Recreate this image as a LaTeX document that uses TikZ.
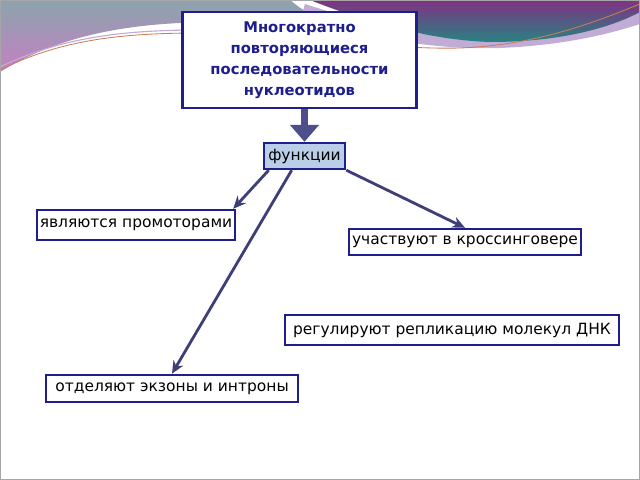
\documentclass[tikz,border=0pt]{standalone}
\usepackage{fontspec}
\setmainfont{DejaVu Sans}
\usetikzlibrary{arrows.meta}

\definecolor{boxblue}{RGB}{30,30,140}
\definecolor{arrowblue}{RGB}{62,62,120}
\definecolor{thickblue}{RGB}{78,78,140}
\definecolor{fnfill}{RGB}{186,206,232}
\definecolor{waveteal}{RGB}{40,130,130}
\definecolor{wavepurple}{RGB}{128,50,130}
\definecolor{wavegray}{RGB}{140,164,172}
\definecolor{wavepink}{RGB}{196,128,196}
\definecolor{wavelav}{RGB}{192,172,212}
\definecolor{waveline}{RGB}{205,125,85}

\tikzset{
  box/.style={draw=boxblue, line width=1.7pt, rectangle, inner sep=1pt,
    font=\fontsize{11}{13}\selectfont},
  link/.style={draw=arrowblue, line width=2pt, -{Stealth[length=9pt,width=8pt]}}
}

\begin{document}
\begin{tikzpicture}[x=0.025cm, y=-0.025cm]
  \useasboundingbox (0,0) rectangle (640,480);
  % Slide header wave
  \shade[top color=wavegray, bottom color=wavepink]
    (0,0) -- (290,0) .. controls (305,12) .. (335,23)
    -- (220,22) .. controls (130,22) and (60,35) .. (0,72) -- cycle;
  \fill[wavelav] (300,20) .. controls (380,40) and (440,50) .. (500,48)
    .. controls (570,45) and (615,32) .. (640,24) -- (640,10)
    .. controls (600,25) and (560,38) .. (490,40)
    .. controls (430,40) and (360,22) .. (305,4) -- cycle;
  \shade[top color=wavepurple, bottom color=waveteal]
    (310,0) .. controls (365,22) and (430,40) .. (490,42)
    .. controls (560,42) and (610,28) .. (640,12) -- (640,0) -- cycle;
  \draw[wavelav, line width=0.8pt] (0,67) .. controls (60,38) and (120,30) .. (200,30);
  \draw[waveline, line width=0.6pt] (0,70) .. controls (60,40) and (120,33) .. (200,33)
    .. controls (300,33) and (380,50) .. (460,48) .. controls (540,45) and (600,20) .. (640,4);
  \draw[gray!70, line width=0.6pt] (0.5,0.5) rectangle (639.5,479.5);

  \node[box, line width=2.1pt, fill=white, minimum width=5.83cm, minimum height=2.4cm,
    align=center, text=boxblue, font=\bfseries\fontsize{10.5}{15}\selectfont] (rpt) at (299.5,60)
    {Многократно\\повторяющиеся\\последовательности\\нуклеотидов};
  \node[box, fill=fnfill, minimum width=2.03cm, minimum height=0.65cm] (fn) at (304.5,156) {функции};
  \node[box, minimum width=4.95cm, minimum height=0.75cm] (prom) at (136,225) {являются промоторами};
  \node[box, minimum width=5.8cm, minimum height=0.65cm] (cross) at (465,242) {участвуют в кроссинговере};
  \node[box, minimum width=8.35cm, minimum height=0.75cm] (repl) at (452,330) {регулируют репликацию молекул ДНК};
  \node[box, minimum width=6.3cm, minimum height=0.68cm] (exon) at (172,388.5) {отделяют экзоны и интроны};

  % Draw the arrows
  \draw[thickblue, line width=5pt, -{Triangle[length=12pt,width=20pt]}] (rpt.south -| fn.north) -- (fn.north);
  \draw[link] ([xshift=6*0.025cm]fn.south west) -- ([xshift=-3*0.025cm]prom.north east);
  \draw[link] ([xshift=29*0.025cm]fn.south west) -- (exon.north);
  \draw[link] (fn.south east) -- (cross.north);
\end{tikzpicture}
\end{document}
